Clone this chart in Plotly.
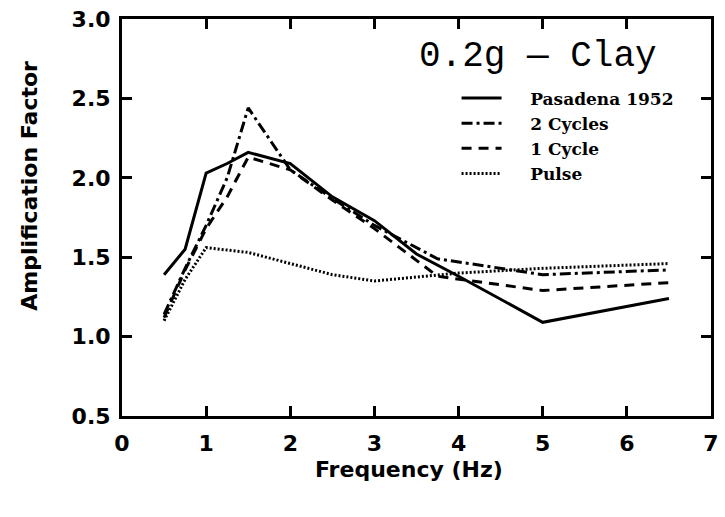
import plotly.graph_objects as go

# Amplification factor vs. frequency, 0.2g input on clay
freq_pasadena = [0.5, 0.75, 1.0, 1.25, 1.5, 2.0, 2.5, 3.0, 3.5, 4.0, 5.0, 6.5]
amp_pasadena = [1.39, 1.55, 2.03, 2.09, 2.16, 2.09, 1.88, 1.73, 1.52, 1.38, 1.09, 1.24]

freq_2cyc = [0.5, 0.75, 1.0, 1.25, 1.5, 2.0, 2.5, 3.0, 3.75, 5.0, 6.5]
amp_2cyc = [1.14, 1.43, 1.70, 2.00, 2.44, 2.05, 1.87, 1.70, 1.49, 1.39, 1.42]

freq_1cyc = [0.5, 0.75, 1.0, 1.25, 1.5, 2.0, 2.5, 3.0, 3.75, 5.0, 6.5]
amp_1cyc = [1.12, 1.42, 1.68, 1.88, 2.13, 2.05, 1.86, 1.68, 1.38, 1.29, 1.34]

freq_pulse = [0.5, 0.75, 1.0, 1.5, 2.0, 2.5, 3.0, 4.0, 5.0, 6.5]
amp_pulse = [1.10, 1.36, 1.56, 1.53, 1.46, 1.39, 1.35, 1.40, 1.43, 1.46]

series_names = ["Pasadena 1952", "2 Cycles", "1 Cycle", "Pulse"]
x_ticks = [0, 1, 2, 3, 4, 5, 6, 7]
y_ticks = [0.5, 1.0, 1.5, 2.0, 2.5, 3.0]

styles = [
    dict(dash="solid", width=3),
    dict(dash="11px,4px,3px,4px", width=3),
    dict(dash="10px,7px", width=3),
    dict(dash="2px,2px", width=3),
]

# legend labels padded so the text sits well clear of the line samples
pad = "\u00a0" * 4

fig = go.Figure()
for name, xs, ys, st in zip(
    series_names,
    [freq_pasadena, freq_2cyc, freq_1cyc, freq_pulse],
    [amp_pasadena, amp_2cyc, amp_1cyc, amp_pulse],
    styles,
):
    fig.add_trace(go.Scatter(
        x=xs, y=ys, mode="lines", name=pad + name,
        line=dict(color="black", **st),
    ))

axis_common = dict(
    showline=True, linecolor="black", linewidth=3, mirror="ticks",
    ticks="inside", ticklen=10, tickwidth=2.5, tickcolor="black",
    showgrid=False, zeroline=False,
    tickfont=dict(family="DejaVu Sans", size=22, color="black", weight="bold"),
)
title_font = dict(family="DejaVu Sans", size=22, color="black", weight="bold")

fig.update_layout(
    width=725, height=517,
    margin=dict(l=122, r=6, t=19, b=101),
    paper_bgcolor="white", plot_bgcolor="white",
    showlegend=True,
    legend=dict(
        x=0.568, y=0.845, xanchor="left", yanchor="top",
        bgcolor="rgba(0,0,0,0)", borderwidth=0,
        font=dict(family="DejaVu Serif", size=17, color="black", weight="bold"),
        tracegroupgap=0, itemwidth=40,
    ),
    xaxis=dict(
        range=[0, 7], tickvals=x_ticks, ticktext=[str(v) for v in x_ticks],
        ticklabelstandoff=6,
        **axis_common,
    ),
    yaxis=dict(
        range=[0.5, 3.0], tickvals=y_ticks, ticktext=[f"{v:.1f}" for v in y_ticks],
        ticklabelstandoff=4,
        **axis_common,
    ),
    annotations=[
        dict(
            text="0.2g \u2014 Clay", x=1.0, y=1 - (34 - 19) / 397,
            xref="paper", yref="paper", xshift=-52,
            xanchor="right", yanchor="top", showarrow=False,
            font=dict(family="Liberation Mono", size=36, color="black"),
        ),
        dict(
            text="Frequency (Hz)", x=0.487, y=-0.136,
            xref="paper", yref="paper", xanchor="center", yanchor="middle",
            showarrow=False, font=title_font,
        ),
        dict(
            text="Amplification Factor", x=-0.157, y=0.579, textangle=-90,
            xref="paper", yref="paper", xanchor="center", yanchor="middle",
            showarrow=False, font=title_font,
        ),
    ],
)

fig.write_html("out.html")
